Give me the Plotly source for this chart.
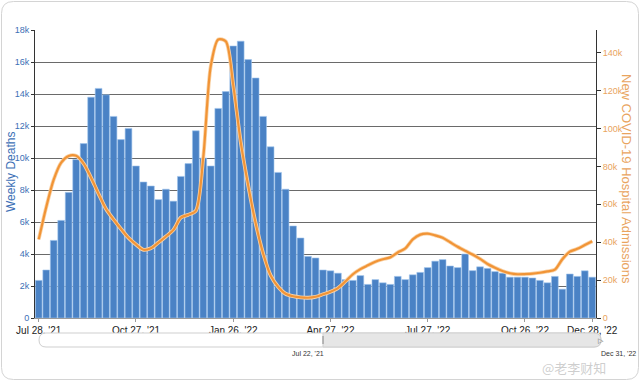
import pandas as pd
import plotly.graph_objects as go

# ---------------- data ----------------
week_start = "2021-07-28"
n_weeks = 75
weeks = pd.date_range(week_start, periods=n_weeks, freq="7D")

weekly_deaths = [
    2350, 3000, 4850, 6100, 7850, 9900, 10900, 13800, 14350, 13950,
    12600, 11150, 11850, 9500, 8500, 8250, 7400, 8050, 7300, 8850,
    9650, 11700, 10000, 9500, 13100, 14150, 17000, 17300, 16150, 15000,
    12600, 10700, 9100, 8050, 5750, 5000, 3850, 3750, 3000, 2950,
    2800, 2400, 2350, 2650, 2100, 2400, 2200, 2100, 2600, 2400,
    2700, 2850, 3150, 3550, 3650, 3250, 3150, 4000, 2960, 3200,
    3100, 2900, 2800, 2550, 2550, 2550, 2500, 2350, 2200, 2600,
    1800, 2750, 2600, 2950, 2550,
]

hospital_admissions = [
    41500, 58500, 73000, 82000, 85500, 85600, 81500, 74000, 65500, 57500,
    52000, 47000, 42300, 38800, 36000, 36800, 39800, 43000, 46500, 53000,
    54500, 56500, 85000, 133000, 147000, 146000, 123000, 93000, 70000, 50000,
    34000, 22500, 16500, 12800, 11500, 10900, 10700, 11200, 12500, 13900,
    15800, 19300, 23100, 25800, 27800, 29700, 31000, 32000, 34600, 36700,
    41500, 44000, 44500, 43600, 42400, 40000, 37600, 35500, 33500, 31200,
    28500, 26500, 24800, 23600, 23100, 23200, 23400, 23900, 24600, 25500,
    31000, 35000, 36500, 38500, 40500,
]

x_tick_dates = ["2021-07-28", "2021-10-27", "2022-01-26", "2022-04-27",
                "2022-07-27", "2022-10-26", "2022-12-28"]
x_tick_text = ["Jul 28, '21", "Oct 27, '21", "Jan 26, '22", "Apr 27, '22",
               "Jul 27, '22", "Oct 26, '22", "Dec 28, '22"]

left_tick_vals = [0, 2000, 4000, 6000, 8000, 10000, 12000, 14000, 16000, 18000]
left_tick_text = ["0", "2k", "4k", "6k", "8k", "10k", "12k", "14k", "16k", "18k"]
right_tick_vals = [0, 20000, 40000, 60000, 80000, 100000, 120000, 140000]
right_tick_text = ["0", "20k", "40k", "60k", "80k", "100k", "120k", "140k"]

# ---------------- layout geometry ----------------
W, H = 640, 382
L, R, T, B = 35, 44, 30, 64
PW, PH = W - L - R, H - T - B

def px(x):
    return (x - L) / PW

def py(y):
    return (H - B - y) / PH

def rrect(x0, y0, x1, y1, r, left=True, right=True):
    rl = r if left else 0
    rr = r if right else 0
    pts = []
    pts.append(f"M {px(x0 + rl)},{py(y0)}")
    pts.append(f"L {px(x1 - rr)},{py(y0)}")
    if rr:
        pts.append(f"Q {px(x1)},{py(y0)} {px(x1)},{py(y0 + rr)}")
    pts.append(f"L {px(x1)},{py(y1 - rr)}")
    if rr:
        pts.append(f"Q {px(x1)},{py(y1)} {px(x1 - rr)},{py(y1)}")
    pts.append(f"L {px(x0 + rl)},{py(y1)}")
    if rl:
        pts.append(f"Q {px(x0)},{py(y1)} {px(x0)},{py(y1 - rl)}")
    pts.append(f"L {px(x0)},{py(y0 + rl)}")
    if rl:
        pts.append(f"Q {px(x0)},{py(y0)} {px(x0 + rl)},{py(y0)}")
    pts.append("Z")
    return " ".join(pts)

FONT = "Liberation Sans, Arial, sans-serif"
BLUE = "#4a82c5"
BLUE_TXT = "#3d70b6"
ORANGE = "#f19436"
ORANGE_TXT = "#e9a45e"

fig = go.Figure()

fig.add_trace(go.Bar(
    x=weeks, y=weekly_deaths, name="Weekly Deaths",
    marker=dict(color=BLUE, line=dict(color="#9fc4ec", width=0.6)),
    yaxis="y",
))

fig.add_trace(go.Scatter(
    x=weeks, y=hospital_admissions, name="New COVID-19 Hospital Admissions",
    mode="lines", line=dict(color="#f9d2a6", width=3.8, shape="spline", smoothing=0.8),
    yaxis="y2", hoverinfo="skip", showlegend=False,
))
fig.add_trace(go.Scatter(
    x=weeks, y=hospital_admissions, name="New COVID-19 Hospital Admissions",
    mode="lines", line=dict(color=ORANGE, width=2.2, shape="spline", smoothing=0.8),
    yaxis="y2",
))

shapes = [
    # card border
    dict(type="path", xref="paper", yref="paper", layer="below",
         path=rrect(1.5, 1.5, 638.5, 379.5, 12),
         line=dict(color="#d4d4d4", width=1), fillcolor="white"),
    # range navigator
    dict(type="path", xref="paper", yref="paper",
         path=rrect(39, 333, 601, 347, 7),
         line=dict(color="#cfcfcf", width=1), fillcolor="white"),
    dict(type="path", xref="paper", yref="paper",
         path=rrect(323, 333, 601, 347, 7, left=False),
         line=dict(color="#cfcfcf", width=1), fillcolor="#e6e6e6"),
    dict(type="line", xref="paper", yref="paper",
         x0=px(323), x1=px(323), y0=py(336), y1=py(344),
         line=dict(color="#888", width=1)),
]

annotations = [
    dict(text="Weekly Deaths", xref="paper", yref="paper",
         x=px(11), y=py(172), textangle=-90, showarrow=False,
         font=dict(family=FONT, size=12, color=BLUE_TXT),
         xanchor="center", yanchor="middle"),
    dict(text="New COVID-19 Hospital Admissions", xref="paper", yref="paper",
         x=px(627), y=py(179), textangle=90, showarrow=False,
         font=dict(family=FONT, size=13, color=ORANGE_TXT),
         xanchor="center", yanchor="middle"),
    dict(text="Jul 22, '21", xref="paper", yref="paper",
         x=px(308), y=py(353), showarrow=False,
         font=dict(family=FONT, size=7, color="#333"),
         xanchor="center", yanchor="middle"),
    dict(text="Dec 31, '22", xref="paper", yref="paper",
         x=px(618), y=py(353), showarrow=False,
         font=dict(family=FONT, size=7, color="#333"),
         xanchor="center", yanchor="middle"),
    dict(text="▷", xref="paper", yref="paper",
         x=px(601), y=py(340), showarrow=False,
         font=dict(family=FONT, size=7, color="#666"),
         xanchor="center", yanchor="middle"),
    dict(text="@老李财知", xref="paper", yref="paper",
         x=px(574), y=py(367), showarrow=False,
         font=dict(family="Noto Sans CJK SC", size=13, color="rgba(185,185,185,0.7)"),
         xanchor="center", yanchor="middle"),
]

fig.update_layout(
    width=W, height=H,
    margin=dict(l=L, r=R, t=T, b=B),
    paper_bgcolor="white", plot_bgcolor="white",
    showlegend=False,
    bargap=0.1,
    font=dict(family=FONT),
    xaxis=dict(
        type="date",
        range=["2021-07-24 12:00", "2022-12-31 12:00"],
        tickvals=x_tick_dates, ticktext=x_tick_text,
        tickfont=dict(size=10, color="#222"),
        showgrid=False, showline=True, linecolor="#9a9a9a", linewidth=1,
        ticks="outside", ticklen=3, tickcolor="#9a9a9a",
        zeroline=False, fixedrange=True,
    ),
    yaxis=dict(
        range=[0, 18000],
        tickvals=left_tick_vals, ticktext=left_tick_text,
        tickfont=dict(size=9, color=BLUE_TXT),
        showgrid=True, gridcolor="#6a6a6a", gridwidth=1,
        showline=True, linecolor="#333", linewidth=1,
        ticks="outside", ticklen=3, tickcolor="#333",
        zeroline=False,
    ),
    yaxis2=dict(
        range=[0, 152000], overlaying="y", side="right",
        tickvals=right_tick_vals, ticktext=right_tick_text,
        tickfont=dict(size=9, color=ORANGE_TXT),
        showgrid=False,
        showline=True, linecolor="#333", linewidth=1,
        ticks="outside", ticklen=4, tickcolor="#333",
        zeroline=False,
    ),
    shapes=shapes,
    annotations=annotations,
)

fig.write_html("out.html", config={"displayModeBar": False})

# remove the browser's default page margin so the figure sits at (0, 0)
with open("out.html", "r", encoding="utf-8") as f:
    html = f.read()
html = html.replace("<body>", '<body style="margin:0;padding:0;">', 1)
with open("out.html", "w", encoding="utf-8") as f:
    f.write(html)
